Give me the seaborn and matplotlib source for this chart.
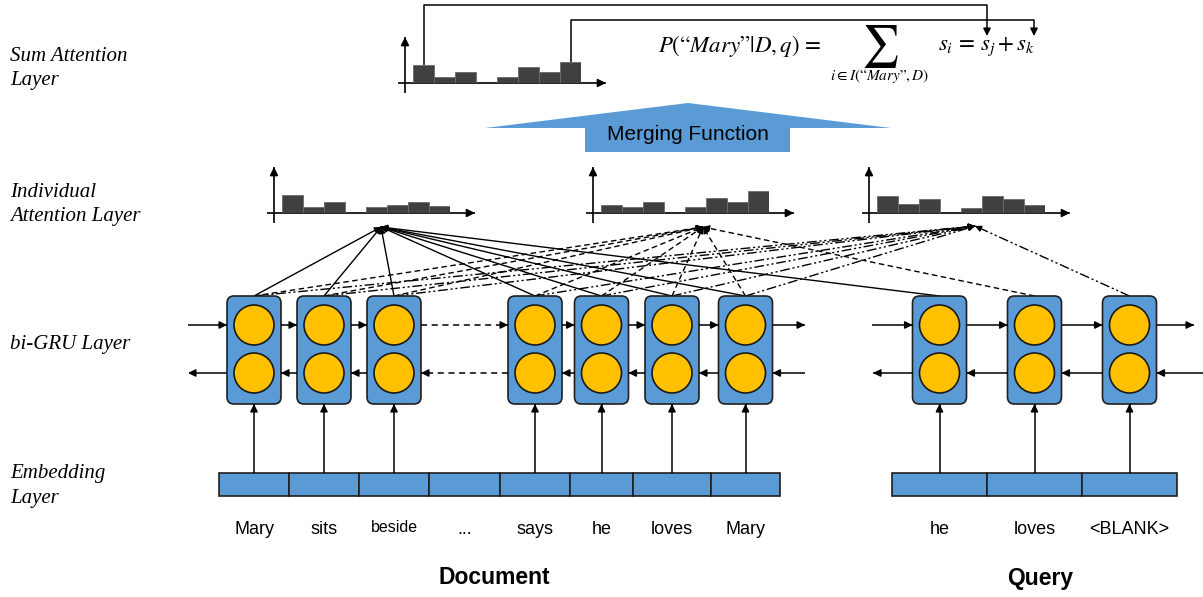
import numpy as np
import pandas as pd
import matplotlib
matplotlib.use("Agg")
import matplotlib.pyplot as plt
import seaborn as sns
from matplotlib.patches import FancyBboxPatch, Rectangle, Circle, Polygon

# ---------------- data ----------------
doc_words = ["Mary", "sits", "beside", "...", "says", "he", "loves", "Mary"]
query_words = ["he", "loves", "<BLANK>"]
layer_labels = ["Sum Attention\nLayer", "Individual\nAttention Layer",
                "bi-GRU Layer", "Embedding\nLayer"]
attn_he = [17.7, 5.7, 11.0, 0.0, 5.7, 8.3, 11.0, 7.0]
attn_loves = [8.3, 5.7, 11.0, 0.0, 5.7, 15.0, 11.0, 21.7]
attn_blank = [17.0, 9.0, 14.3, 0.0, 5.0, 17.0, 14.3, 7.7]
attn_sum = [17.7, 5.7, 11.3, 0.0, 5.7, 16.3, 11.3, 20.7]
merge_label = "Merging Function"
doc_title = "Document"
query_title = "Query"

# ---------------- layout ----------------
W, H = 1203, 597
BLUE = "#5B9BD5"
ORANGE = "#FFC000"
BAR = "#404040"
doc_edges = [219, 289, 359, 429, 500, 570, 633, 711, 780]
query_edges = [892, 987, 1082, 1177]
emb_top, emb_bot = 473, 496
box_top, box_bot, box_hw = 296, 404, 27
row_f, row_b = 325, 373
word_y = 530

sns.set_theme(style="white")
plt.rcParams["font.family"] = ["Liberation Sans", "DejaVu Sans"]
plt.rcParams["mathtext.fontset"] = "stix"
plt.rcParams["text.color"] = "black"

fig = plt.figure(figsize=(W / 100, H / 100), dpi=100)
ax = fig.add_axes([0, 0, 1, 1])
ax.set_xlim(0, W)
ax.set_ylim(H, 0)
ax.axis("off")


def head(x0, y0, x1, y1, ms=11, lw=1.1):
    d = np.hypot(x1 - x0, y1 - y0)
    ux, uy = (x1 - x0) / d, (y1 - y0) / d
    ax.annotate("", xy=(x1, y1), xytext=(x1 - 6 * ux, y1 - 6 * uy),
                arrowprops=dict(arrowstyle="-|>", color="black", lw=lw,
                                shrinkA=0, shrinkB=0, mutation_scale=ms),
                zorder=6)


def arrow(x0, y0, x1, y1, ls="-", lw=1.1, ms=11):
    ax.plot([x0, x1], [y0, y1], color="black", lw=lw, ls=ls, zorder=5,
            solid_capstyle="butt")
    head(x0, y0, x1, y1, ms=ms, lw=lw)


# ---------------- embedding layer ----------------
def cells(edges):
    return [(a + b) / 2 for a, b in zip(edges[:-1], edges[1:])]


doc_cx = cells(doc_edges)
query_cx = cells(query_edges)
for edges in (doc_edges, query_edges):
    for a, b in zip(edges[:-1], edges[1:]):
        ax.add_patch(Rectangle((a, emb_top), b - a, emb_bot - emb_top,
                               facecolor=BLUE, edgecolor="#1f1f1f", lw=1.2, zorder=3))

for cx, w in zip(doc_cx, doc_words):
    fs = 11.5 if w == "beside" else 13
    dy = -3 if w == "beside" else 0
    ax.text(cx, word_y + dy, w, ha="center", va="center", fontsize=fs)
for cx, w in zip(query_cx, query_words):
    ax.text(cx, word_y, w, ha="center", va="center", fontsize=13)

ax.text(494, 578, doc_title, ha="center", va="center", fontsize=16.5, fontweight="bold")
ax.text(1040, 578, query_title, ha="center", va="center", fontsize=16.5, fontweight="bold")

# ---------------- bi-GRU layer ----------------
doc_box_x = [doc_cx[i] for i in range(len(doc_words)) if doc_words[i] != "..."]
query_box_x = query_cx


def gru_box(cx):
    ax.add_patch(FancyBboxPatch((cx - box_hw, box_top), 2 * box_hw, box_bot - box_top,
                                boxstyle="round,pad=0,rounding_size=7",
                                facecolor=BLUE, edgecolor="#1f1f1f", lw=1.2, zorder=3))
    for cy in (row_f, row_b):
        ax.add_patch(Circle((cx, cy), 20, facecolor=ORANGE, edgecolor="#1a1a1a",
                            lw=1.2, zorder=4))
    arrow(cx, emb_top, cx, box_bot)


for cx in doc_box_x + query_box_x:
    gru_box(cx)

# document recurrent arrows
arrow(188, row_f, doc_box_x[0] - box_hw, row_f)
head(doc_box_x[0] - box_hw + 10, row_b, 188, row_b)
ax.plot([doc_box_x[0] - box_hw, 190], [row_b, row_b], color="black", lw=1.1)
for i in range(len(doc_box_x) - 1):
    a, b = doc_box_x[i] + box_hw, doc_box_x[i + 1] - box_hw
    ls = (0, (4, 3)) if i == 2 else "-"
    arrow(a, row_f, b, row_f, ls=ls)
    arrow(b, row_b, a, row_b, ls=ls)
arrow(doc_box_x[-1] + box_hw, row_f, 805, row_f)
arrow(805, row_b, doc_box_x[-1] + box_hw, row_b)

# query recurrent arrows
arrow(872, row_f, query_box_x[0] - box_hw, row_f)
arrow(query_box_x[0] - box_hw, row_b, 873, row_b)
for i in range(len(query_box_x) - 1):
    a, b = query_box_x[i] + box_hw, query_box_x[i + 1] - box_hw
    arrow(a, row_f, b, row_f)
    arrow(b, row_b, a, row_b)
arrow(query_box_x[-1] + box_hw, row_f, 1194, row_f)
arrow(1203, row_b, query_box_x[-1] + box_hw, row_b)

# ---------------- attention histograms ----------------
BW = 21


def histogram(values, yx, base):
    n = len(values)
    x0 = yx + 8
    rect = [x0 / W, 1 - base / H, n * BW / W, 25 / H]
    iax = fig.add_axes(rect)
    df = pd.DataFrame({"pos": list(range(n)), "val": values})
    sns.barplot(data=df, x="pos", y="val", color=BAR, saturation=1, width=1.0,
                edgecolor="#6a6a6a", linewidth=0.6, ax=iax)
    iax.set_xlim(-0.5, n - 0.5)
    iax.set_ylim(0, 25)
    iax.axis("off")
    iax.patch.set_alpha(0)
    arrow(yx - 7, base, yx + 201, base, lw=1.2, ms=12)
    arrow(yx, base + 10, yx, base - 46, lw=1.2, ms=12)
    return x0


hist_specs = [(attn_he, 274, 213, "-", [0]),
              (attn_loves, 593, 213, (0, (4, 2.5)), [1]),
              (attn_blank, 869, 213, (0, (7, 2, 1.5, 2, 1.5, 2)), [2])]
focals = [(381, 227), (703, 227), (975, 226)]

for (vals, yx, base, ls, qidx), (fx, fy) in zip(hist_specs, focals):
    histogram(vals, yx, base)
    targets = doc_box_x + [query_box_x[q] for q in qidx]
    for tx in targets:
        ax.plot([tx, fx], [box_top, fy], color="black", lw=1.0, ls=ls, zorder=2)
        head(tx, box_top, fx, fy, ms=9, lw=1.0)

# ---------------- sum attention layer ----------------
sum_x0 = histogram(attn_sum, 405, 83)
c0 = sum_x0 + 0.5 * BW
c7 = sum_x0 + 7.5 * BW
ax.plot([c0, c0, 987, 987], [83 - attn_sum[0], 5, 5, 30], color="black", lw=1.1)
head(987, 20, 987, 36)
ax.plot([c7, c7, 1034, 1034], [83 - attn_sum[7], 20, 20, 30], color="black", lw=1.1)
head(1034, 20, 1034, 36)

ax.text(740, 46, r"$P(“Mary”|D,q)\,=$", ha="center", va="center", fontsize=16.5)
ax.text(880, 47, r"$\sum$", ha="center", va="center", fontsize=30)
ax.text(880, 76, r"$i\in I(“Mary”,D)$", ha="center", va="center", fontsize=11)
ax.text(938, 47, r"$s_i\,=\,s_j+s_k$", ha="left", va="center", fontsize=16.5)

# merging function arrow
ax.add_patch(Polygon([(485, 128), (688, 103), (891, 128), (790, 128), (790, 152),
                      (585, 152), (585, 128)], closed=True, facecolor=BLUE,
                     edgecolor="none", zorder=3))
ax.text(688, 135, merge_label, ha="center", va="center", fontsize=15, zorder=4)

# ---------------- layer labels ----------------
for lbl, yc in zip(layer_labels, [68.5, 204.5, 344, 486]):
    ax.text(10, yc, lbl, ha="left", va="center", fontsize=15, style="italic",
            family=["Liberation Serif", "DejaVu Serif"], linespacing=1.4)

fig.savefig("out.png", dpi=100)
